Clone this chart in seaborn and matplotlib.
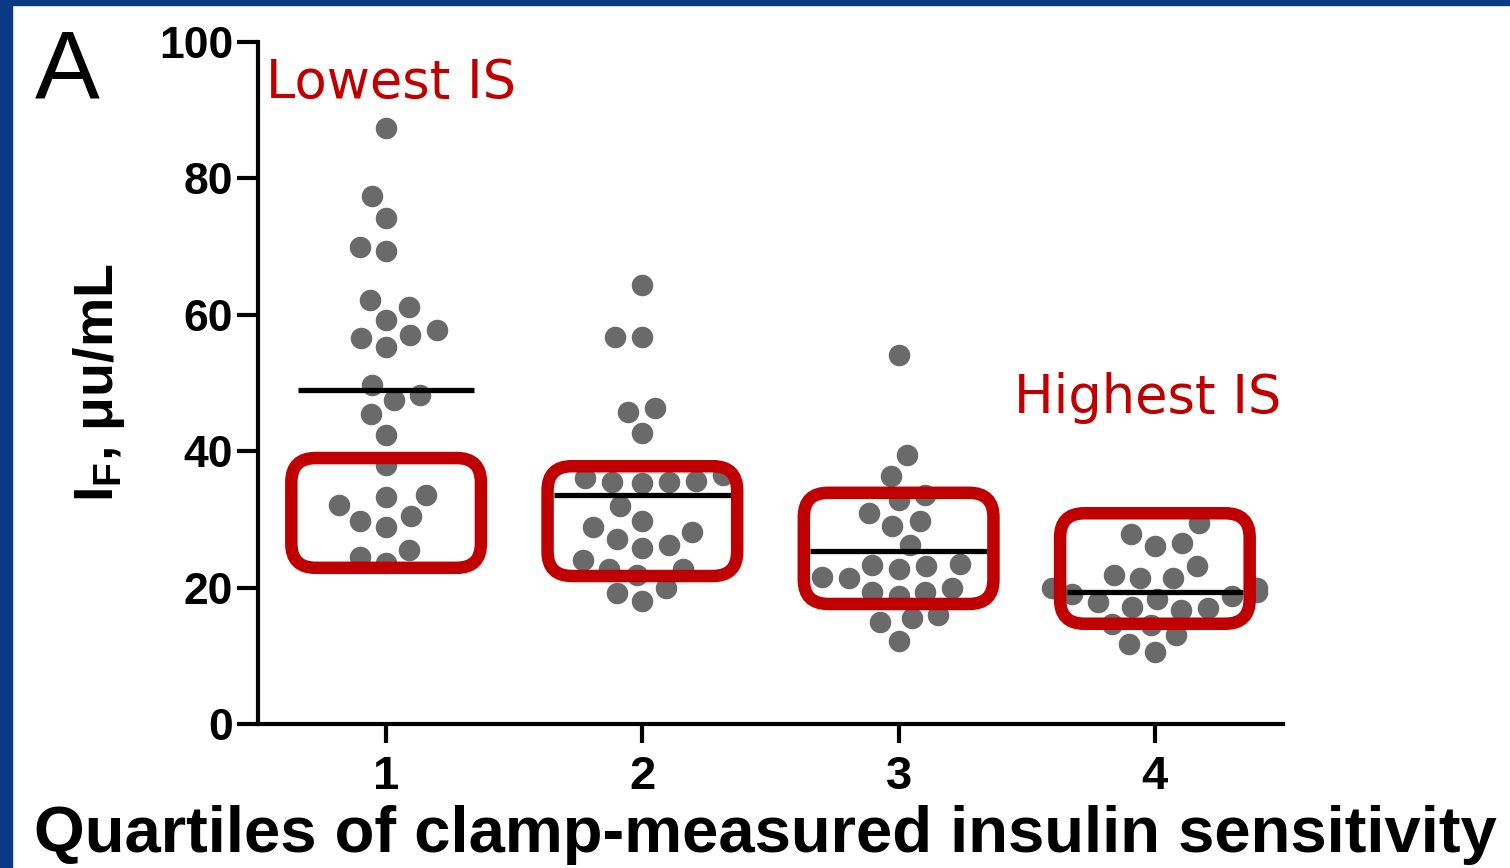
import numpy as np
import pandas as pd
import matplotlib.pyplot as plt
from matplotlib.patches import FancyBboxPatch, Rectangle
import seaborn as sns

# Valeurs (IF, uU/mL) par quartile de sensibilite
quartiles = ["1", "2", "3", "4"]
q1 = [87.4, 77.4, 74.2, 70.0, 69.3, 62.2, 61.2, 59.2, 57.8, 57.0, 56.6, 55.3, 49.7, 48.2,
      47.5, 45.5, 42.4, 38.0, 33.6, 33.3, 32.1, 30.5, 29.8, 28.9, 25.5, 24.5, 23.6]
q2 = [64.4, 56.8, 56.7, 46.3, 45.8, 42.6, 36.5, 36.0, 35.7, 35.5, 35.5, 35.4, 31.9,
      29.8, 28.9, 28.2, 27.1, 26.2, 25.8, 24.0, 22.8, 22.8, 21.8, 19.9, 19.2, 18.1]
q3 = [54.1, 39.4, 36.4, 33.6, 32.8, 31.0, 29.7, 29.0, 26.2, 23.5, 23.3, 23.1, 22.8,
      21.6, 21.4, 19.9, 19.4, 19.3, 18.8, 16.0, 15.5, 14.9, 12.2]
q4 = [29.5, 27.8, 26.6, 26.1, 23.2, 21.8, 21.4, 21.4, 19.9, 19.9, 19.4, 19.1, 18.7,
      18.4, 17.9, 17.2, 17.0, 16.7, 14.7, 14.5, 13.0, 11.8, 10.6]
groups = [q1, q2, q3, q4]
yticks = [0, 20, 40, 60, 80, 100]

df = pd.DataFrame({
    "quartile": np.repeat(quartiles, [len(g) for g in groups]),
    "IF": np.concatenate(groups),
})

sns.set_theme(style="ticks")
plt.rcParams["font.family"] = ["Liberation Sans", "DejaVu Sans"]
plt.rcParams["mathtext.fontset"] = "custom"
plt.rcParams["mathtext.rm"] = "Liberation Sans:bold"
plt.rcParams["mathtext.it"] = "Liberation Sans:bold"
plt.rcParams["mathtext.bf"] = "Liberation Sans:bold"
for k in ["text.color", "axes.labelcolor", "xtick.color", "ytick.color", "axes.edgecolor"]:
    plt.rcParams[k] = "black"

fig = plt.figure(figsize=(15.1, 8.68), dpi=100)
fig.patch.set_facecolor("white")
ax = fig.add_axes([258 / 1510, 1 - 724 / 868, 1025 / 1510, 682 / 868])

# points (bord transparent pour espacer un peu l'essaim)
sns.swarmplot(data=df, x="quartile", y="IF", order=quartiles, color="#6a6a6a",
              size=15.5, linewidth=3, edgecolor=(1, 1, 1, 0), ax=ax, zorder=3)

# moyennes
for i, vals in enumerate(groups):
    ax.hlines(np.mean(vals), i - 0.344, i + 0.344, color="black", lw=3.8, zorder=4)

ax.set_xlim(-0.5, 3.5)
ax.set_ylim(0, 100)
ax.set_yticks(yticks)
ax.set_xlabel("")
ax.set_ylabel(r"I$_\mathrm{F}$, μu/mL", fontsize=40, fontweight="bold", va="center")
ax.yaxis.set_label_coords(-0.155, 0.5)

sns.despine(ax=ax)
for s in ["left", "bottom"]:
    ax.spines[s].set_linewidth(3)
ax.tick_params(axis="y", length=15, width=3, pad=3, labelsize=32)
ax.tick_params(axis="x", length=14, width=3, pad=8, labelsize=34)
plt.setp(ax.get_xticklabels() + ax.get_yticklabels(), fontweight="bold")

# cadres rouges arrondis
fig.canvas.draw()
bb = ax.get_window_extent()
aspect = (bb.width / 4) / (bb.height / 100)
box_lo = [22.9, 21.7, 17.6, 14.7]
box_hi = [39.0, 37.8, 33.9, 30.9]
for i in range(4):
    p = FancyBboxPatch((i - 0.37, box_lo[i]), 0.74, box_hi[i] - box_lo[i],
                       boxstyle="round,pad=0,rounding_size=0.095",
                       mutation_aspect=aspect, fc="none", ec="#c00000",
                       lw=9, zorder=5, clip_on=False)
    ax.add_patch(p)

ax.text(-0.47, 91.8, "Lowest IS", color="#c00000", fontsize=38,
        family="DejaVu Sans", va="baseline")
ax.text(2.449, 45.6, "Highest IS", color="#c00000", fontsize=38,
        family="DejaVu Sans", va="baseline")

fig.text(35 / 1510, 1 - 97 / 868, "A", fontsize=70, va="baseline")
fig.text(765 / 1510, 1 - 852 / 868, "Quartiles of clamp-measured insulin sensitivity",
         fontsize=47, fontweight="bold", ha="center", va="baseline")

# bandeau bleu du diaporama
blue = "#0b3a84"
fig.add_artist(Rectangle((0, 0), 12 / 1510, 1, transform=fig.transFigure, color=blue))
fig.add_artist(Rectangle((0, 1 - 5 / 868), 1, 5 / 868, transform=fig.transFigure, color=blue))

fig.savefig("out.png", dpi=100)
